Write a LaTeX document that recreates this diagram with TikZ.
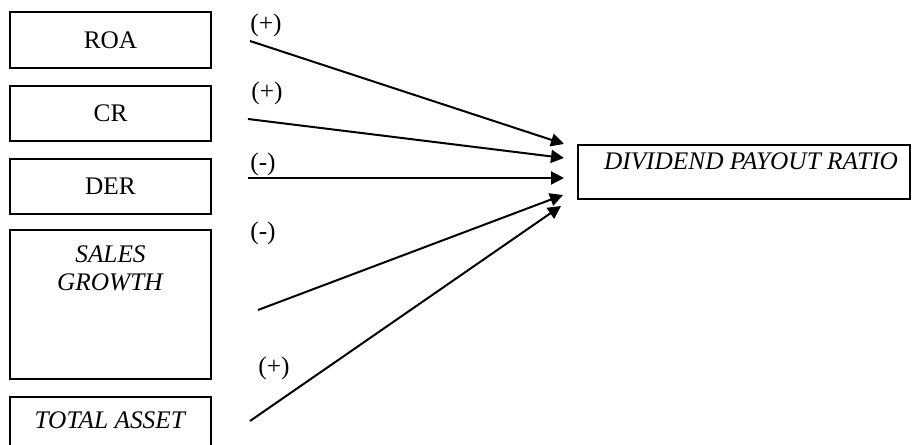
\documentclass[tikz,border=0pt]{standalone}
\usepackage{fontspec}
\setmainfont{Liberation Serif}
\usetikzlibrary{arrows.meta}
\tikzset{
  box/.style={draw, line width=1bp, inner sep=0pt, minimum width=100bp},
  txt/.style={inner sep=0pt, font=\fontsize{12.7}{14}\selectfont},
  sign/.style={inner sep=0pt, font=\fontsize{12.7}{14}\selectfont},
  link/.style={line width=1bp, -{Triangle[length=6.5bp,width=6.5bp]}}
}
\begin{document}
\begin{tikzpicture}[x=0.5bp,y=-0.5bp]
\useasboundingbox (0,0) rectangle (912,445);
% left boxes
\node[box, txt, minimum height=28bp] (roa) at (110.5,40.5) {ROA};
\node[box, txt, minimum height=27.5bp] (cr) at (110.5,113.5) {CR};
\node[box, txt, minimum height=27.5bp] (der) at (110.5,186.5) {DER};
\node[box, minimum height=74.5bp] (sg) at (110.5,304.5) {};
\node[txt, align=center] (sgt) at (110.5,268) {\textit{SALES}\\\textit{GROWTH}};
\node[box, minimum height=31.5bp] (ta) at (110.5,428.5) {};
\node[txt] (tat) at (110.5,420) {\textit{TOTAL ASSET}};
% target box
\node[box, minimum width=166bp, minimum height=27bp] (dpr) at (744,172) {};
\node[txt] (dprt) at (751,161) {\textit{DIVIDEND PAYOUT RATIO}};
% arrow ends
\coordinate (s1) at (250,41);
\coordinate (s2) at (248,119);
\coordinate (s3) at (248,178);
\coordinate (s4) at (258,310);
\coordinate (s5) at (250,421);
\coordinate (e1) at (564,144);
\coordinate (e2) at (564,158);
\coordinate (e3) at (564,178);
\coordinate (e4) at (563,195);
\coordinate (e5) at (561,206);
\draw[link] (s1) -- (e1);
\draw[link] (s2) -- (e2);
\draw[link] (s3) -- (e3);
\draw[link] (s4) -- (e4);
\draw[link] (s5) -- (e5);
% signs
\node[sign] (p1) at (266,25) {(+)};
\node[sign] (p2) at (267,93) {(+)};
\node[sign] (p3) at (263,164) {(-)};
\node[sign] (p4) at (263,233) {(-)};
\node[sign] (p5) at (274,368) {(+)};
\end{tikzpicture}
\end{document}
